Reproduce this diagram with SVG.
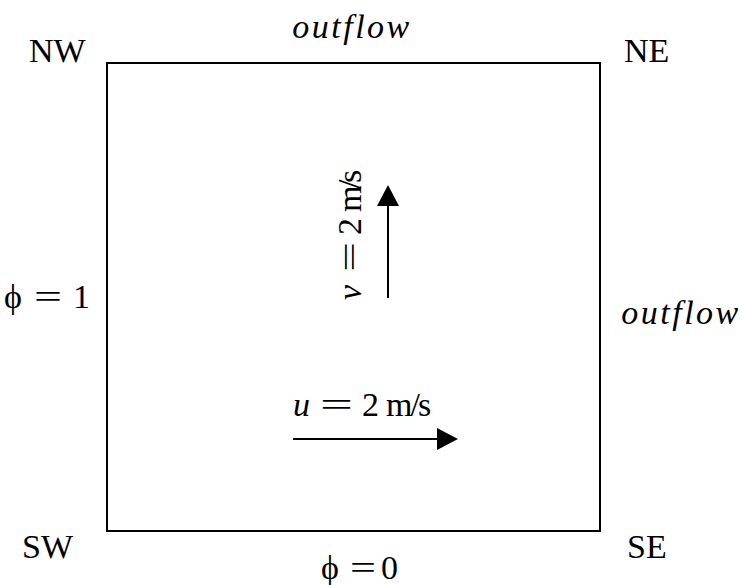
<svg xmlns="http://www.w3.org/2000/svg" width="742" height="585" viewBox="0 0 742 585">
<defs>
<style>
.t{font-family:"Liberation Serif","Times New Roman",serif;font-size:34px;fill:#000}
.i{font-style:italic}
.c{letter-spacing:-2px}
.c3{letter-spacing:-3.5px}
.o{font-family:"Liberation Serif","Times New Roman",serif;font-style:italic;font-size:34px;letter-spacing:2.5px;fill:#000}
.ln{stroke:#000;stroke-width:2;fill:none}
</style>
<marker id="ah" viewBox="0 0 21 22" refX="2" refY="11" markerWidth="21" markerHeight="22" orient="auto" markerUnits="userSpaceOnUse">
<path d="M0,0 L21,11 L0,22 z" fill="#000"/>
</marker>
</defs>
<rect width="742" height="585" fill="#fff"/>
<g id="domain">
<rect x="107" y="63" width="493" height="468" class="ln"/>
</g>
<g id="labels">
<text class="t" x="29" y="62">NW</text>
<text class="t" x="624" y="62">NE</text>
<text class="t" x="22" y="558">SW</text>
<text class="t" x="627" y="558">SE</text>
<text class="o" x="352" y="38" text-anchor="middle">outflow</text>
<text class="o" x="681" y="324" text-anchor="middle">outflow</text>
<g id="phi1">
<text class="t" x="4" y="308">ϕ</text>
<text class="t" x="34" y="308" textLength="28" lengthAdjust="spacingAndGlyphs">=</text>
<text class="t" x="73" y="308">1</text>
</g>
<g id="phi0">
<text class="t" x="321" y="579">ϕ</text>
<text class="t" x="350" y="579" textLength="26" lengthAdjust="spacingAndGlyphs">=</text>
<text class="t" x="381" y="579">0</text>
</g>
<g id="vlabel" transform="translate(361,300) rotate(-90)">
<text class="t i" x="0" y="0">v</text>
<text class="t" x="28" y="0" textLength="30" lengthAdjust="spacingAndGlyphs">=</text>
<text class="t" x="65" y="0">2</text>
<text class="t c3" x="88" y="0">m/s</text>
</g>
<g id="ulabel">
<text class="t i" x="293" y="416">u</text>
<text class="t" x="320" y="416" textLength="33" lengthAdjust="spacingAndGlyphs">=</text>
<text class="t" x="362" y="416">2</text>
<text class="t c" x="386" y="416">m/s</text>
</g>
</g>
<g id="connectors">
<line x1="388" y1="298" x2="388" y2="204" class="ln" marker-end="url(#ah)"/>
<line x1="293" y1="439" x2="439" y2="439" class="ln" marker-end="url(#ah)"/>
</g>
</svg>
